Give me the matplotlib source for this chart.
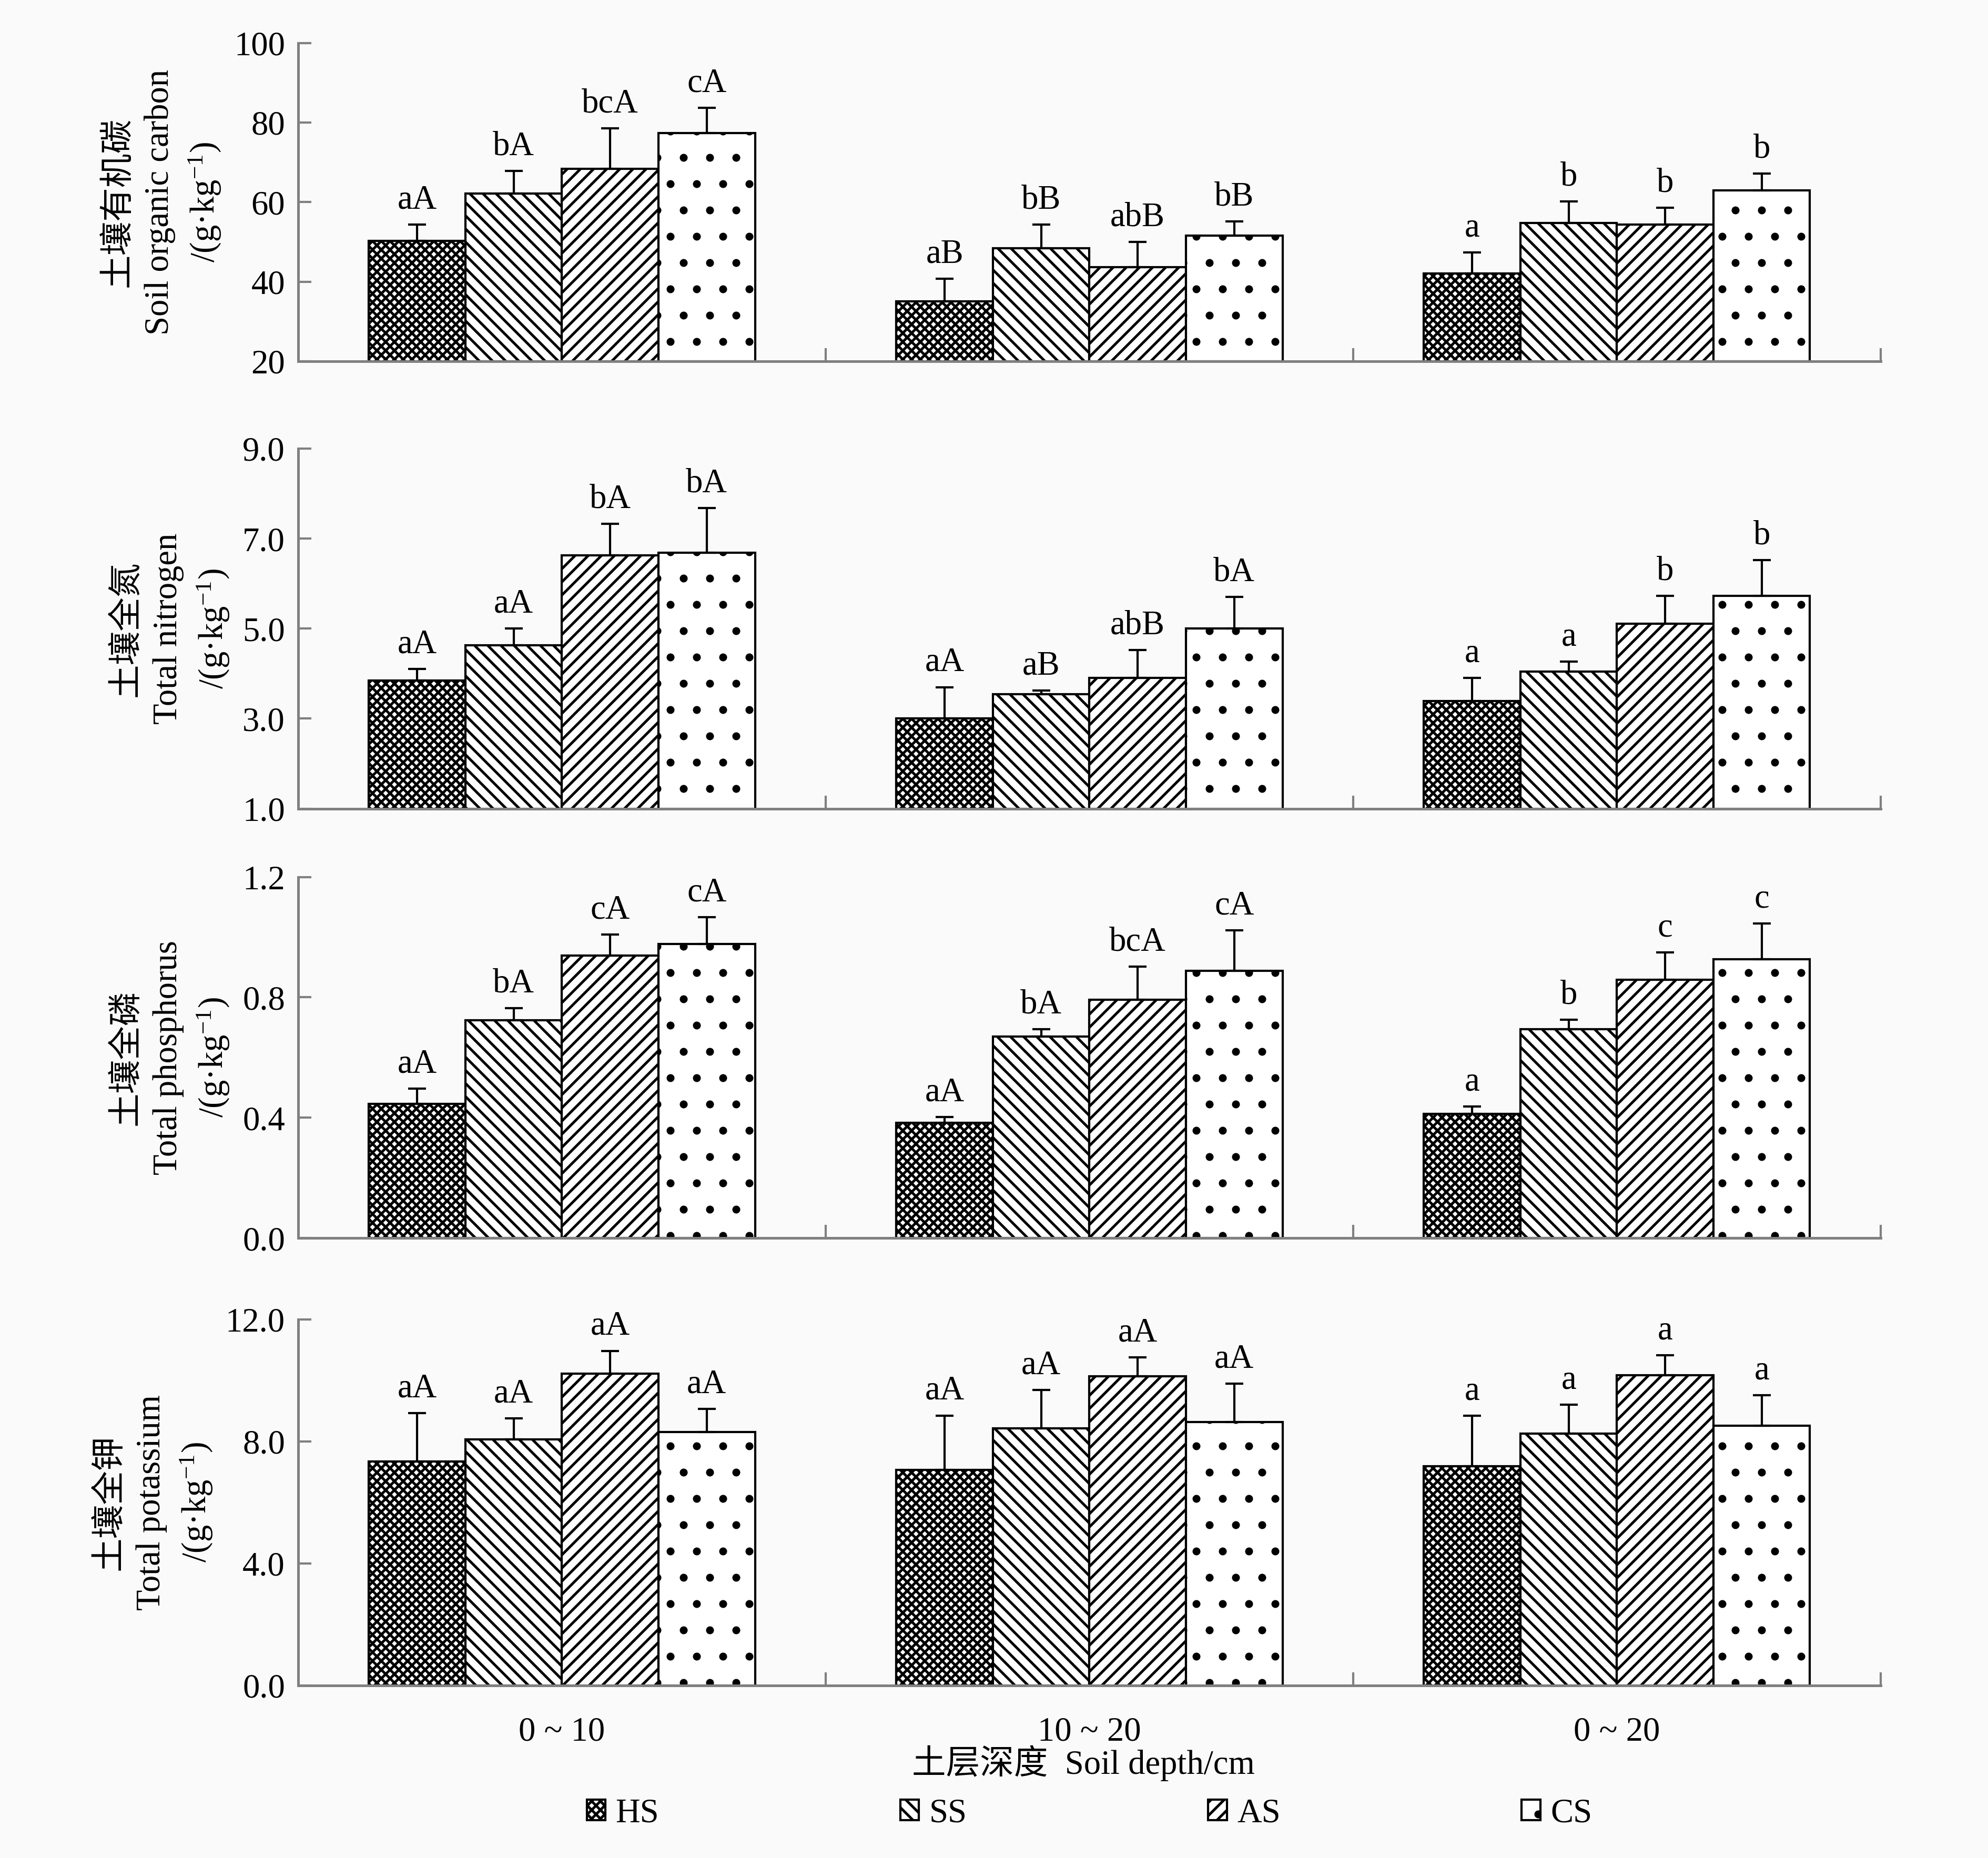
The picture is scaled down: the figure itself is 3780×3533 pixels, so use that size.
import matplotlib
matplotlib.use("Agg")
import matplotlib.pyplot as plt
import matplotlib.patches as mpatches
import numpy as np

plt.rcParams['font.family'] = ['Liberation Serif', 'Noto Sans CJK SC']
plt.rcParams['mathtext.fontset'] = 'custom'
plt.rcParams['mathtext.rm'] = 'Liberation Serif'
plt.rcParams['mathtext.it'] = 'Liberation Serif:italic'
plt.rcParams['hatch.linewidth'] = 1.2
plt.rcParams['font.size'] = 15.5

groups = ["0 ~ 10", "10 ~ 20", "0 ~ 20"]
treatments = ["HS", "SS", "AS", "CS"]
hatches = ["xxxxxx", "\\\\\\\\", "////", "."]

# values[treatment][group]
soc = [[50.3, 35.0, 42.0], [62.1, 48.4, 54.7], [68.4, 43.6, 54.4], [77.4, 51.6, 63.0]]
soc_err = [[4.1, 5.7, 5.4], [5.7, 6.0, 5.5], [10.2, 6.4, 4.2], [6.3, 3.5, 4.2]]
soc_lab = [["aA", "aB", "a"], ["bA", "bB", "b"], ["bcA", "abB", "b"], ["cA", "bB", "b"]]

tn = [[3.85, 3.0, 3.39], [4.63, 3.54, 4.04], [6.63, 3.90, 5.11], [6.69, 5.0, 5.73]]
tn_err = [[0.25, 0.70, 0.51], [0.37, 0.08, 0.23], [0.70, 0.62, 0.62], [0.99, 0.70, 0.79]]
tn_lab = [["aA", "aA", "a"], ["aA", "aB", "a"], ["bA", "abB", "b"], ["bA", "bA", "b"]]

tp = [[0.446, 0.383, 0.413], [0.724, 0.669, 0.695], [0.939, 0.792, 0.859], [0.977, 0.888, 0.926]]
tp_err = [[0.05, 0.02, 0.025], [0.04, 0.025, 0.03], [0.07, 0.11, 0.09], [0.09, 0.135, 0.12]]
tp_lab = [["aA", "aA", "a"], ["bA", "bA", "b"], ["cA", "bcA", "c"], ["cA", "cA", "c"]]

tk = [[7.35, 7.06, 7.18], [8.06, 8.43, 8.26], [10.22, 10.13, 10.17], [8.31, 8.64, 8.51]]
tk_err = [[1.58, 1.79, 1.66], [0.70, 1.25, 0.95], [0.75, 0.62, 0.66], [0.75, 1.25, 1.0]]
tk_lab = [["aA", "aA", "a"], ["aA", "aA", "a"], ["aA", "aA", "a"], ["aA", "aA", "a"]]

panels = [
    (soc, soc_err, soc_lab, (20, 100), [20, 40, 60, 80, 100], "%d",
     "土壤有机碳\nSoil organic carbon\n/(g·kg$^{-1}$)"),
    (tn, tn_err, tn_lab, (1.0, 9.0), [1.0, 3.0, 5.0, 7.0, 9.0], "%.1f",
     "土壤全氮\nTotal nitrogen\n/(g·kg$^{-1}$)"),
    (tp, tp_err, tp_lab, (0.0, 1.2), [0.0, 0.4, 0.8, 1.2], "%.1f",
     "土壤全磷\nTotal phosphorus\n/(g·kg$^{-1}$)"),
    (tk, tk_err, tk_lab, (0.0, 12.0), [0.0, 4.0, 8.0, 12.0], "%.1f",
     "土壤全钾\nTotal potassium\n/(g·kg$^{-1}$)"),
]

# axes boxes (left, bottom, width, height) in figure fractions
boxes = [
    (0.150, 0.8056, 0.796, 0.1712),
    (0.150, 0.5648, 0.796, 0.1937),
    (0.150, 0.3336, 0.796, 0.1944),
    (0.150, 0.0928, 0.796, 0.1971),
]

fig = plt.figure(figsize=(12.6, 11.777), dpi=300)
fig.patch.set_facecolor('#fafafa')

x = np.arange(len(groups))
width = 0.183
axis_grey = '#808080'

for i, (vals, errs, labs, ylim, yt, fmt, ylabel) in enumerate(panels):
    ax = fig.add_axes(boxes[i])
    ax.set_facecolor('none')
    for j, t in enumerate(treatments):
        xs = x + (j - 1.5) * width
        ax.bar(xs, np.array(vals[j]) - ylim[0], width, bottom=ylim[0],
               color='white', edgecolor='black', hatch=hatches[j], linewidth=1.0)
        ax.errorbar(xs, vals[j], yerr=[np.zeros(3), errs[j]], fmt='none',
                    ecolor='black', elinewidth=1.0, capsize=4, capthick=1.0)
        for k in range(3):
            ax.annotate(labs[j][k], (xs[k], vals[j][k] + errs[j][k]), xytext=(0, 4),
                        textcoords='offset points', ha='center', va='bottom')
    ax.set_xlim(-0.5, 2.5)
    ax.set_ylim(*ylim)
    ax.set_yticks(yt)
    ax.set_yticklabels([fmt % v for v in yt])
    ax.set_xticks(x)
    ax.set_xticks([0.5, 1.5, 2.5], minor=True)
    ax.tick_params(axis='x', which='major', length=0, pad=14)
    ax.tick_params(axis='x', which='minor', direction='in', length=6, color=axis_grey, width=1.0)
    ax.tick_params(axis='y', direction='in', length=6, color=axis_grey, width=1.0, pad=6)
    if i == 3:
        ax.set_xticklabels(groups)
    else:
        ax.set_xticklabels([])
    for s in ['top', 'right']:
        ax.spines[s].set_visible(False)
    for s in ['left', 'bottom']:
        ax.spines[s].set_color(axis_grey)
        ax.spines[s].set_linewidth(1.2)
    ax.set_ylabel(ylabel, linespacing=1.4, labelpad=5)

fig.text(0.545, 0.0512, "土层深度  Soil depth/cm", ha='center', va='center')

handles = [mpatches.Patch(facecolor='white', edgecolor='black', hatch=h, linewidth=1.0)
           for h in hatches]
fig.legend(handles, treatments, loc='center', bbox_to_anchor=(0.548, 0.0239), ncol=4,
           frameon=False, handlelength=0.55, handleheight=0.55, handletextpad=0.3,
           columnspacing=7.1)

fig.savefig("out.png", dpi=300, facecolor=fig.get_facecolor())
